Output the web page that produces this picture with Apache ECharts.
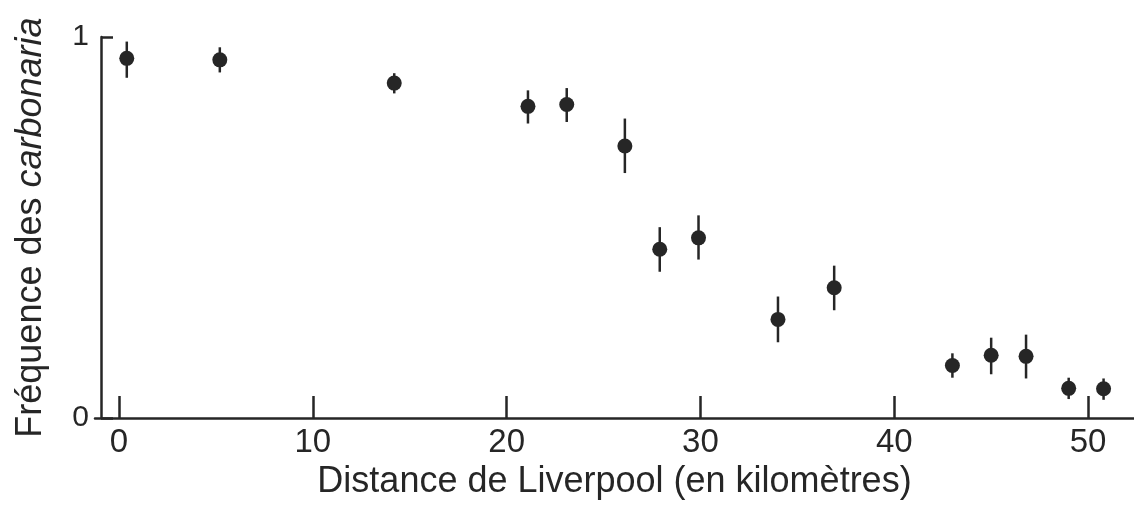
<!DOCTYPE html>
<html lang="fr">
<head>
<meta charset="utf-8">
<title>Fréquence des carbonaria</title>
<script src="https://cdn.jsdelivr.net/npm/echarts@6.0.0/dist/echarts.min.js"></script>
<style>
  html, body { margin: 0; padding: 0; background: #fff; }
  #chart { width: 1134px; height: 505px; }
</style>
</head>
<body>
<div id="chart"></div>
<script>
// distance de Liverpool (km) et fréquence des carbonaria
const distanceKm = [0.4, 5.2, 14.2, 21.1, 23.1, 26.1, 27.9, 29.9, 34.0, 36.9, 43.0, 45.0, 46.8, 49.0, 50.8];
const frequency = [0.944, 0.94, 0.879, 0.818, 0.823, 0.714, 0.443, 0.473, 0.259, 0.342, 0.138, 0.165, 0.162, 0.078, 0.077];
// bornes des barres d'erreur
const errLow = [0.893, 0.907, 0.852, 0.773, 0.777, 0.643, 0.384, 0.416, 0.199, 0.283, 0.106, 0.115, 0.104, 0.05, 0.048];
const errHigh = [0.988, 0.973, 0.905, 0.86, 0.866, 0.786, 0.501, 0.532, 0.319, 0.4, 0.17, 0.211, 0.219, 0.106, 0.104];
// graduations
const xTicks = [0, 10, 20, 30, 40, 50];

const ink = "#262626";
const font = "Liberation Sans";

const points = distanceKm.map((d, i) => [d, frequency[i]]);
const bars = distanceKm.map((d, i) => [d, errLow[i], errHigh[i]]);

const myChart = echarts.init(document.querySelector("#chart"));

const option = {
  backgroundColor: "#fff",
  animation: false,
  grid: {
    left: 95,
    right: 0,
    top: 37,
    bottom: 86,
  },
  xAxis: {
    type: "value",
    min: -1.24,
    max: 52.37,
    name: "Distance de Liverpool (en kilomètres)",
    nameLocation: "middle",
    nameGap: 44,
    nameTextStyle: { fontFamily: font, fontSize: 36, color: ink },
    axisLine: { show: true, lineStyle: { color: ink, width: 2.5 } },
    axisTick: {
      show: true,
      inside: true,
      length: 22,
      customValues: xTicks,
      lineStyle: { color: ink, width: 2.5 },
    },
    axisLabel: {
      customValues: xTicks,
      margin: 8,
      fontFamily: font,
      fontSize: 33,
      color: ink,
    },
    splitLine: { show: false },
  },
  yAxis: {
    type: "value",
    min: 0,
    max: 1,
    interval: 1,
    offset: -6,
    name: "{n|Fréquence des }{i|carbonaria}",
    nameLocation: "middle",
    nameGap: 52,
    nameTextStyle: {
      rich: {
        n: { fontFamily: font, fontSize: 36, color: ink },
        i: { fontFamily: font, fontSize: 36, color: ink, fontStyle: "italic" },
      },
    },
    axisLine: { show: true, onZero: false, lineStyle: { color: ink, width: 2.5 } },
    axisTick: {
      show: true,
      inside: true,
      length: 12,
      lineStyle: { color: ink, width: 2.5 },
    },
    axisLabel: {
      margin: 12,
      fontFamily: font,
      fontSize: 30,
      color: ink,
    },
    splitLine: { show: false },
  },
  series: [
    {
      // barres d'erreur verticales
      type: "custom",
      data: bars,
      renderItem: (params, api) => {
        const low = api.coord([api.value(0), api.value(1)]);
        const high = api.coord([api.value(0), api.value(2)]);
        return {
          type: "line",
          shape: { x1: low[0], y1: low[1], x2: high[0], y2: high[1] },
          style: { stroke: ink, lineWidth: 2.5 },
        };
      },
      encode: { x: 0, y: [1, 2] },
      z: 1,
    },
    {
      type: "scatter",
      data: points,
      symbol: "circle",
      symbolSize: 15,
      itemStyle: { color: ink, opacity: 1 },
      z: 2,
    },
  ],
};

myChart.setOption(option);
window.addEventListener("resize", () => {
  myChart.resize();
});
</script>
</body>
</html>
